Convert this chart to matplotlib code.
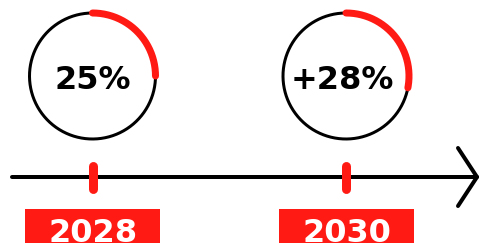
import matplotlib
matplotlib.use("Agg")
import matplotlib.pyplot as plt
import numpy as np

# data
years = ["2028", "2030"]
values = [25, 28]
value_labels = ["25%", "+28%"]

RED = "#ff1a14"
W, H, DPI = 479, 243, 100
fig = plt.figure(figsize=(W / DPI, H / DPI), dpi=DPI)
ax = fig.add_axes([0, 0, 1, 1])
ax.set_xlim(0, W)
ax.set_ylim(H, 0)
ax.axis("off")

px = 72 / DPI  # points per pixel
centers_x = [92.5, 346]
cy, r = 76, 63
line_y = 177

# timeline
ax.plot([12, 477], [line_y, line_y], color="black", lw=4 * px, solid_capstyle="round", zorder=2)
ax.plot([458, 477, 458], [148, line_y, 206], color="black", lw=4 * px,
        solid_capstyle="round", solid_joinstyle="miter", zorder=2)

fs = 32 * px
FONT = ["DejaVu Sans"]
text_dx = [0, -3.5]
for i, (yr, v, lab) in enumerate(zip(years, values, value_labels)):
    cx = centers_x[i]
    t = np.linspace(0, 2 * np.pi, 400)
    ax.plot(cx + r * np.cos(t), cy - r * np.sin(t), color="black", lw=3 * px, zorder=3)
    t2 = np.radians(np.linspace(90, 90 - 360 * v / 100, 200))
    ax.plot(cx + r * np.cos(t2), cy - r * np.sin(t2), color=RED, lw=7 * px,
            solid_capstyle="round", zorder=4)
    ax.text(cx + text_dx[i], 89, lab, ha="center", va="baseline", fontsize=fs,
            fontweight="bold", family=FONT, color="black", zorder=5)
    # tick
    ax.plot([cx + 0.5, cx + 0.5], [166, 189], color=RED, lw=9 * px,
            solid_capstyle="round", zorder=4)
    # year label box
    ax.add_patch(plt.Rectangle((cx - 67, 209), 135, 40, color=RED, lw=0, zorder=3))
    ax.text(cx + 0.5, 242, yr, ha="center", va="baseline", fontsize=fs,
            fontweight="bold", family=FONT, color="white", zorder=5)

fig.savefig("out.png", dpi=DPI)
